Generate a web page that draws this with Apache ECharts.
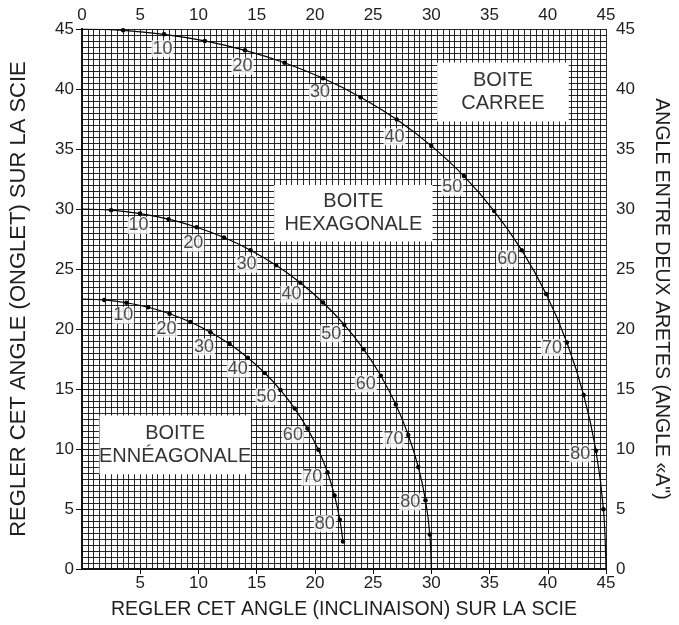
<!DOCTYPE html>
<html>
<head>
<meta charset="utf-8">
<script src="https://cdn.jsdelivr.net/npm/echarts@6/dist/echarts.min.js"></script>
<style>
html,body{margin:0;padding:0;background:#fff;}
#chart{width:679px;height:625px;}
</style>
</head>
<body>
<div id="chart"></div>
<script>
// Tick labels
const xTicks = [0, 5, 10, 15, 20, 25, 30, 35, 40, 45];
const yTicks = [0, 5, 10, 15, 20, 25, 30, 35, 40, 45];

// Slope-angle labels written along the curves
const slopeLabels = ['10', '20', '30', '40', '50', '60', '70', '80'];

// BOITE CARREE curve (bevel = inclinaison, miter = onglet)
const squareBevel = [0, 3.53, 7.05, 10.55, 14.0, 17.39, 20.7, 23.93, 27.03, 30.0, 32.8, 35.4, 37.76, 39.86, 41.64, 43.08, 44.14, 44.78, 45];
const squareMiter = [45, 44.89, 44.56, 44.01, 43.22, 42.19, 40.89, 39.32, 37.45, 35.26, 32.74, 29.83, 26.57, 22.91, 18.88, 14.51, 9.85, 4.98, 0];

// BOITE HEXAGONALE curve
const hexBevel = [0, 2.5, 4.98, 7.44, 9.85, 12.2, 14.48, 16.67, 18.75, 20.7, 22.52, 24.18, 25.66, 26.95, 28.02, 28.88, 29.5, 29.87, 30];
const hexMiter = [30, 29.9, 29.62, 29.15, 28.48, 27.62, 26.57, 25.31, 23.86, 22.21, 20.36, 18.32, 16.1, 13.71, 11.17, 8.5, 5.73, 2.88, 0];

// BOITE ENNEAGONALE curve
const ennBevel = [0, 1.91, 3.81, 5.68, 7.52, 9.31, 11.03, 12.68, 14.24, 15.7, 17.05, 18.27, 19.36, 20.3, 21.08, 21.69, 22.14, 22.41];
const ennMiter = [22.5, 22.42, 22.19, 21.81, 21.27, 20.58, 19.73, 18.74, 17.6, 16.33, 14.91, 13.37, 11.7, 9.93, 8.06, 6.12, 4.11, 2.3];

// Where the slope labels sit (data coordinates)
const squareLabelX = [6.92, 13.79, 20.44, 26.84, 31.79, 36.51, 40.36, 42.78];
const squareLabelY = [43.35, 41.9, 39.71, 36.01, 31.81, 25.86, 18.45, 9.6];
const hexLabelX = [4.86, 9.56, 14.12, 17.99, 21.4, 24.37, 26.76, 28.19];
const hexLabelY = [28.63, 27.15, 25.4, 22.89, 19.6, 15.44, 10.83, 5.59];
const ennLabelX = [3.54, 7.25, 10.47, 13.38, 15.85, 18.11, 19.78, 20.85];
const ennLabelY = [21.14, 19.99, 18.51, 16.67, 14.34, 11.19, 7.65, 3.78];

// Box titles
const boxTexts = ['BOITE\nCARREE', 'BOITE\nHEXAGONALE', 'BOITE\nENNÉAGONALE'];

const INK = '#111';
const TXT = '#1e1e1e';
const FONT = '"Liberation Sans", Arial, sans-serif';

function curveData(xs, ys, dotFirst, dotLast) {
  return xs.map(function (x, i) {
    const item = { value: [x, ys[i]] };
    const isFirst = i === 0, isLast = i === xs.length - 1;
    if ((isFirst && !dotFirst) || (isLast && !dotLast)) item.symbol = 'none';
    return item;
  });
}
function labelData(xs, ys) {
  return xs.map(function (x, i) {
    return { value: [x, ys[i]], label: { formatter: slopeLabels[i] } };
  });
}

const chart = echarts.init(document.getElementById('chart'), null, { renderer: 'canvas' });

const commonLine = { lineStyle: { color: INK, width: 2 } };
const gridLine = { show: true, lineStyle: { color: INK, width: 1, opacity: 0.9 } };

function curveSeries(name, xs, ys, dotLast, extra) {
  return Object.assign({
    name: name,
    type: 'line',
    xAxisIndex: 0,
    yAxisIndex: 0,
    data: curveData(xs, ys, false, dotLast),
    smooth: 0.35,
    symbol: 'circle',
    symbolSize: 4.5,
    showSymbol: true,
    showAllSymbol: true,
    itemStyle: { color: '#000' },
    lineStyle: { color: '#000', width: 1.2 },
    emphasis: { disabled: true },
    z: 3
  }, extra || {});
}

function labelSeries(xs, ys) {
  return {
    type: 'scatter',
    xAxisIndex: 0,
    yAxisIndex: 0,
    data: labelData(xs, ys),
    symbolSize: 0,
    silent: true,
    z: 5,
    label: {
      show: true,
      position: 'inside',
      fontFamily: FONT,
      fontSize: 18,
      lineHeight: 16,
      color: TXT,
      backgroundColor: '#fff',
      padding: [1, 1, 0, 1]
    }
  };
}

const boxLabel = {
  show: true,
  position: 'inside',
  fontFamily: FONT,
  fontSize: 20,
  lineHeight: 23,
  color: '#333',
  align: 'center'
};

const option = {
  backgroundColor: '#fff',
  animation: false,
  grid: { left: 71, right: 62, top: 29, bottom: 49, containLabel: false },
  xAxis: [
    {
      type: 'value', min: xTicks[0], max: xTicks[xTicks.length - 1], interval: 5,
      position: 'bottom',
      axisLine: commonLine,
      axisTick: { show: true, length: 5, lineStyle: { color: INK, width: 1 } },
      axisLabel: { fontFamily: FONT, fontSize: 17, color: TXT, margin: 6, showMinLabel: false },
      splitLine: gridLine,
      minorTick: { show: false, splitNumber: 10 },
      minorSplitLine: gridLine,
      name: 'REGLER CET ANGLE (INCLINAISON) SUR LA SCIE',
      nameLocation: 'middle', nameGap: 31,
      nameTextStyle: { fontFamily: FONT, fontSize: 19.5, color: TXT }
    },
    {
      type: 'value', min: xTicks[0], max: xTicks[xTicks.length - 1], interval: 5,
      position: 'top',
      axisLine: commonLine,
      axisTick: { show: true, length: 5, lineStyle: { color: INK, width: 1 } },
      axisLabel: { fontFamily: FONT, fontSize: 17, color: TXT, margin: 5 },
      splitLine: { show: false }
    }
  ],
  yAxis: [
    {
      type: 'value', min: yTicks[0], max: yTicks[yTicks.length - 1], interval: 5,
      position: 'left',
      axisLine: commonLine,
      axisTick: { show: true, length: 6, lineStyle: { color: INK, width: 1 } },
      axisLabel: { fontFamily: FONT, fontSize: 17, color: TXT, margin: 8 },
      splitLine: gridLine,
      minorTick: { show: false, splitNumber: 10 },
      minorSplitLine: gridLine,
      name: 'REGLER CET ANGLE (ONGLET) SUR LA SCIE',
      nameLocation: 'middle', nameGap: 52, nameRotate: 90,
      nameTextStyle: { fontFamily: FONT, fontSize: 22, color: TXT }
    },
    {
      type: 'value', min: yTicks[0], max: yTicks[yTicks.length - 1], interval: 5,
      position: 'right',
      axisLine: commonLine,
      axisTick: { show: true, length: 6, lineStyle: { color: INK, width: 1 } },
      axisLabel: { fontFamily: FONT, fontSize: 17, color: TXT, margin: 10 },
      splitLine: { show: false },
      name: 'ANGLE ENTRE DEUX ARETES (ANGLE «A")',
      nameLocation: 'middle', nameGap: 45, nameRotate: -90,
      nameTextStyle: { fontFamily: FONT, fontSize: 19.5, color: TXT }
    }
  ],
  series: [
    curveSeries('carree', squareBevel, squareMiter, false, {
      markArea: {
        silent: true,
        itemStyle: { color: '#fff', opacity: 1, borderWidth: 0 },
        label: boxLabel,
        data: [
          [{ name: boxTexts[0], coord: [30.5, 42.2] }, { coord: [41.8, 37.3] }],
          [{ name: boxTexts[1], coord: [16.5, 32.0] }, { coord: [30.1, 27.3] }],
          [{ name: boxTexts[2], coord: [1.5, 12.8] }, { coord: [14.5, 7.9] }]
        ]
      }
    }),
    curveSeries('hexagonale', hexBevel, hexMiter, false),
    curveSeries('enneagonale', ennBevel, ennMiter, true),
    labelSeries(squareLabelX, squareLabelY),
    labelSeries(hexLabelX, hexLabelY),
    labelSeries(ennLabelX, ennLabelY)
  ]
};
chart.setOption(option);
</script>
</body>
</html>
